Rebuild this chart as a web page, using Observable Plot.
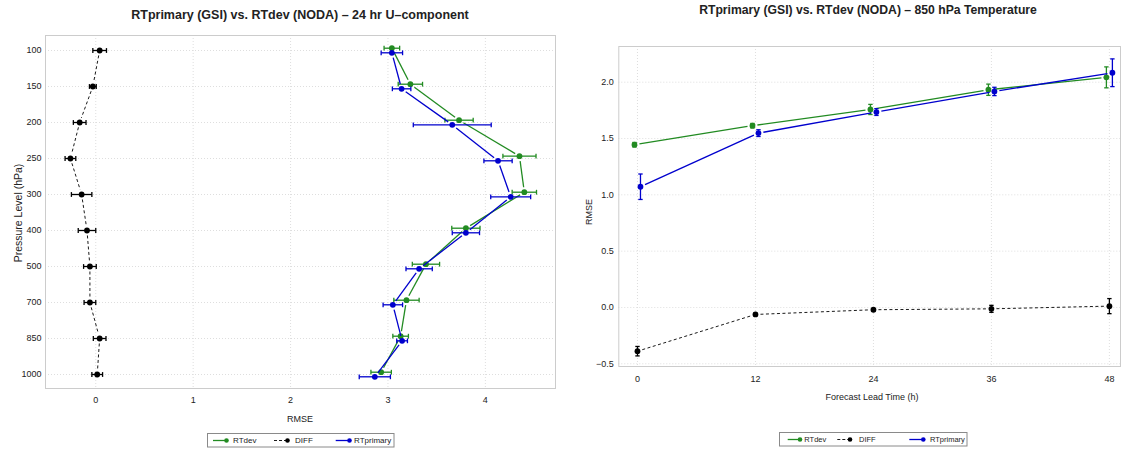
<!DOCTYPE html>
<html>
<head>
<meta charset="utf-8">
<script src="https://cdn.jsdelivr.net/npm/d3@7"></script>
<script src="https://cdn.jsdelivr.net/npm/@observablehq/plot@0.6"></script>
<style>
  body { margin: 0; background: #fff; font-family: "Liberation Sans", Arial, sans-serif; }
  #wrap { position: relative; width: 1121px; height: 451px; overflow: hidden; }
  .abs { position: absolute; white-space: nowrap; color: #222; line-height: 1; }
  .title { font-weight: bold; font-size: 12.5px; transform: translate(-50%, -50%); }
  .lab { font-size: 9px; transform: translate(-50%, -50%); }
  .rot { font-size: 9px; transform: translate(-50%, -50%) rotate(-90deg); }
  .panel { position: absolute; top: 0; }
</style>
</head>
<body>
<div id="wrap">
  <div class="panel" id="left" style="left:0px"></div>
  <div class="panel" id="right" style="left:560px"></div>
  <div class="abs title" style="left:300px; top:15px">RTprimary (GSI) vs. RTdev (NODA) – 24 hr U–component</div>
  <div class="abs title" style="left:868px; top:10px; font-size:12.2px">RTprimary (GSI) vs. RTdev (NODA) – 850 hPa Temperature</div>
  <div class="abs rot" style="left:17.5px; top:213px; font-size:10.5px">Pressure Level (hPa)</div>
  <div class="abs lab" style="left:300px; top:419px">RMSE</div>
  <div class="abs rot" style="left:589px; top:212px">RMSE</div>
  <div class="abs lab" style="left:872px; top:397px">Forecast Lead Time (h)</div>
  <div class="abs" id="legL" style="left:207px; top:433px"></div>
  <div class="abs" id="legR" style="left:779px; top:432px"></div>
</div>
<script>
// ---- 24 hr U-component RMSE by pressure level ----
const levels = ["100", "150", "200", "250", "300", "400", "500", "700", "850", "1000"];
const uDev     = [3.04, 3.23, 3.73, 4.35, 4.40, 3.80, 3.39, 3.19, 3.13, 2.93];
const uDevErr  = [0.08, 0.125, 0.145, 0.17, 0.125, 0.145, 0.14, 0.13, 0.08, 0.105];
const uPrim    = [3.04, 3.14, 3.66, 4.13, 4.26, 3.80, 3.32, 3.05, 3.145, 2.865];
const uPrimErr = [0.11, 0.095, 0.40, 0.145, 0.205, 0.14, 0.135, 0.10, 0.055, 0.16];
const uDiff    = [0.04, -0.03, -0.165, -0.26, -0.145, -0.09, -0.06, -0.06, 0.04, 0.015];
const uDiffErr = [0.07, 0.035, 0.065, 0.055, 0.105, 0.09, 0.065, 0.06, 0.065, 0.055];

// ---- 850 hPa temperature RMSE by forecast lead time ----
const leads    = [0, 12, 24, 36, 48];
const tDev     = [1.445, 1.614, 1.758, 1.933, 2.043];
const tDevErr  = [0.02, 0.02, 0.045, 0.05, 0.093];
const tPrim    = [1.072, 1.548, 1.735, 1.918, 2.084];
const tPrimErr = [0.113, 0.03, 0.03, 0.037, 0.123];
const tDiff    = [-0.388, -0.062, -0.02, -0.012, 0.012];
const tDiffErr = [0.042, 0.01, 0.01, 0.031, 0.067];

const GREEN = "#228b22", BLUE = "#0000cd", BLACK = "#000000";
const GRID = {stroke: "#dedede", strokeOpacity: 1, strokeDasharray: "1,2", strokeWidth: 1};

// error-bar end caps as dot symbols
const capV = {draw(ctx, size) { const h = Math.sqrt(size / Math.PI); ctx.moveTo(0, -h); ctx.lineTo(0, h); }};
const capH = {draw(ctx, size) { const h = Math.sqrt(size / Math.PI); ctx.moveTo(-h, 0); ctx.lineTo(h, 0); }};

const rowsOf = (keys, vals, errs) => keys.map((k, i) => ({k, v: vals[i], e: errs[i]}));
const segsOf = (rows) => rows.slice(1).map((r, i) => ({k1: rows[i].k, v1: rows[i].v, k2: r.k, v2: r.v}));

// one series on the level panel: gapped line, horizontal error bars, points
function levelSeries(vals, errs, color, off, dash) {
  const rows = rowsOf(levels, vals, errs);
  const w = 1.3;
  return [
    Plot.arrow(segsOf(rows), {x1: "v1", y1: "k1", x2: "v2", y2: "k2", stroke: color, strokeWidth: dash ? 0.9 : w,
      strokeDasharray: dash, headLength: 0, insetStart: 5, insetEnd: 5, strokeLinecap: "butt", dy: off}),
    Plot.link(rows, {x1: d => d.v - d.e, x2: d => d.v + d.e, y1: "k", y2: "k", stroke: color, strokeWidth: w, dy: off}),
    Plot.dot(rows, {x: d => d.v - d.e, y: "k", symbol: capV, r: 2.4, stroke: color, strokeWidth: w, dy: off}),
    Plot.dot(rows, {x: d => d.v + d.e, y: "k", symbol: capV, r: 2.4, stroke: color, strokeWidth: w, dy: off}),
    Plot.dot(rows, {x: "v", y: "k", r: 2.9, fill: color, stroke: null, dy: off})
  ];
}

// one series on the lead-time panel: gapped line, vertical error bars, points
function leadSeries(vals, errs, color, off, dash) {
  const rows = rowsOf(leads, vals, errs);
  const w = 1.3;
  return [
    Plot.arrow(segsOf(rows), {x1: "k1", y1: "v1", x2: "k2", y2: "v2", stroke: color, strokeWidth: dash ? 0.9 : w,
      strokeDasharray: dash, headLength: 0, insetStart: 5, insetEnd: 5, strokeLinecap: "butt", dx: off}),
    Plot.link(rows, {x1: "k", x2: "k", y1: d => d.v - d.e, y2: d => d.v + d.e, stroke: color, strokeWidth: w, dx: off}),
    Plot.dot(rows, {x: "k", y: d => d.v - d.e, symbol: capH, r: 2.2, stroke: color, strokeWidth: w, dx: off}),
    Plot.dot(rows, {x: "k", y: d => d.v + d.e, symbol: capH, r: 2.2, stroke: color, strokeWidth: w, dx: off}),
    Plot.dot(rows, {x: "k", y: "v", r: 2.9, fill: color, stroke: null, dx: off})
  ];
}

const baseStyle = {fontFamily: "Liberation Sans, Arial, sans-serif", fontSize: "9px", color: "#222", background: "transparent"};

const left = Plot.plot({
  width: 560, height: 451,
  marginLeft: 45, marginRight: 5, marginTop: 35, marginBottom: 63,
  style: baseStyle,
  x: {domain: [-0.516, 4.72], label: null},
  y: {type: "point", domain: levels, padding: 0.358, label: null},
  marks: [
    Plot.gridX([0, 1, 2, 3, 4], GRID),
    Plot.gridY(levels, GRID),
    Plot.frame({stroke: "#cccccc"}),
    Plot.axisX([0, 1, 2, 3, 4], {tickSize: 0, tickPadding: 8, label: null}),
    Plot.axisY(levels, {tickSize: 0, tickPadding: 4, label: null}),
    ...levelSeries(uDev, uDevErr, GREEN, -2.3, null),
    ...levelSeries(uDiff, uDiffErr, BLACK, 0, "3,2.5"),
    ...levelSeries(uPrim, uPrimErr, BLUE, 2.3, null)
  ]
});
document.getElementById("left").append(left);

const right = Plot.plot({
  width: 561, height: 451,
  marginLeft: 58.3, marginRight: 1, marginTop: 46, marginBottom: 85,
  style: baseStyle,
  x: {domain: [-1.9, 49.13], label: null},
  y: {domain: [-0.524, 2.317], label: null},
  marks: [
    Plot.gridX(leads, GRID),
    Plot.gridY([-0.5, 0, 0.5, 1, 1.5, 2], GRID),
    Plot.frame({stroke: "#cccccc"}),
    Plot.axisX(leads, {tickSize: 0, tickPadding: 9, label: null}),
    Plot.axisY([-0.5, 0, 0.5, 1, 1.5, 2], {tickSize: 0, tickPadding: 5, tickFormat: d3.format(".1f"), label: null}),
    ...leadSeries(tDev, tDevErr, GREEN, -3, null),
    ...leadSeries(tDiff, tDiffErr, BLACK, 0, "3,2.5"),
    ...leadSeries(tPrim, tPrimErr, BLUE, 3, null)
  ]
});
document.getElementById("right").append(right);

// legend boxes below each panel
const legendNames = ["RTdev", "DIFF", "RTprimary"];
const legendColors = [GREEN, BLACK, BLUE];
const legendDash = [null, "3,2", null];
function drawLegend(id, w, h, starts, fontSize) {
  const svg = d3.select("#" + id).append("svg").attr("width", w + 1).attr("height", h + 1)
    .style("display", "block").style("font-family", "Liberation Sans, Arial, sans-serif");
  svg.append("rect").attr("x", 0.5).attr("y", 0.5).attr("width", w - 0.5).attr("height", h - 0.5)
    .attr("fill", "#fff").attr("stroke", "#8a8a8a");
  legendNames.forEach((name, i) => {
    const [a, b, t] = starts[i];
    const cy = h / 2 + 0.5;
    svg.append("line").attr("x1", a).attr("x2", b).attr("y1", cy).attr("y2", cy)
      .attr("stroke", legendColors[i]).attr("stroke-width", i === 1 ? 0.9 : 1.3)
      .attr("stroke-dasharray", legendDash[i]);
    svg.append("circle").attr("cx", b).attr("cy", cy).attr("r", 2.3).attr("fill", legendColors[i]);
    svg.append("text").attr("x", t).attr("y", cy).attr("dy", "0.35em").attr("font-size", fontSize)
      .attr("fill", "#222").text(name);
  });
}
drawLegend("legL", 187, 14, [[6, 19.5, 26], [67, 80.5, 88], [128.7, 142.5, 147]], 8);
drawLegend("legR", 188, 14, [[8.7, 21, 25.3], [58.3, 71, 80], [130.3, 144.3, 151]], 7.5);
</script>
</body>
</html>
